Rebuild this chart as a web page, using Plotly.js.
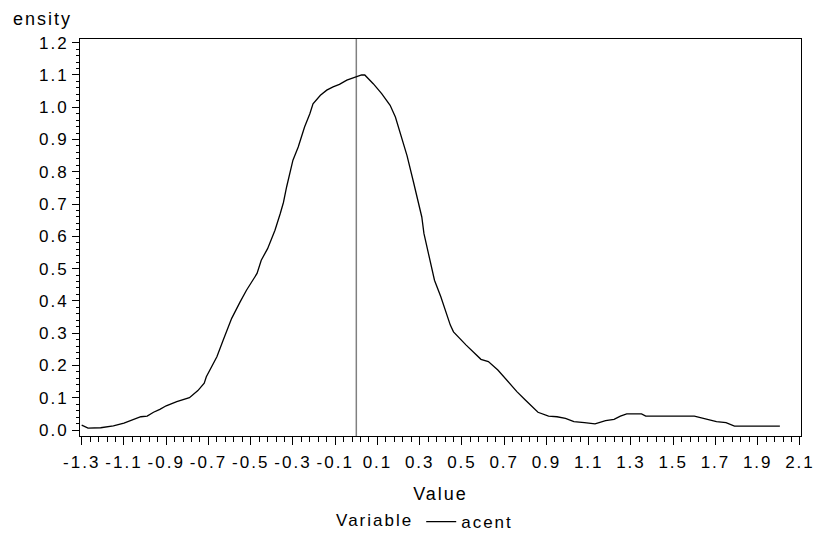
<!DOCTYPE html>
<html>
<head>
<meta charset="utf-8">
<script src="https://cdn.plot.ly/plotly-3.0.1.min.js"></script>
<style>
html, body { margin: 0; padding: 0; background: #ffffff; }
#chart { width: 816px; height: 556px; }
svg text { letter-spacing: 2px; }
</style>
</head>
<body>
<div id="chart"></div>
<script>
// Density curve for variable "acent"
var seriesName = "acent";
var legendTitle = "Variable";
var xTitle = "Value";
var yTitle = "ensity";

var values = [-1.30, -1.27, -1.21, -1.15, -1.10, -1.06, -1.02, -0.99, -0.96, -0.93,
  -0.90, -0.85, -0.79, -0.75, -0.72, -0.71, -0.66, -0.63, -0.60, -0.59,
  -0.55, -0.52, -0.47, -0.45, -0.42, -0.385, -0.36, -0.345, -0.33, -0.30,
  -0.275, -0.245, -0.22, -0.205, -0.17, -0.14, -0.11, -0.08, -0.045, -0.005,
  0.025, 0.04, 0.08, 0.12, 0.16, 0.185, 0.205, 0.24, 0.27, 0.29,
  0.31, 0.32, 0.35, 0.37, 0.40, 0.42, 0.445, 0.46, 0.52, 0.59,
  0.625, 0.67, 0.71, 0.76, 0.80, 0.845, 0.86, 0.91, 0.95, 0.99,
  1.03, 1.08, 1.13, 1.18, 1.22, 1.25, 1.28, 1.35, 1.37, 1.60,
  1.65, 1.705, 1.75, 1.79, 2.005];

var density = [0.015, 0.006, 0.007, 0.013, 0.021, 0.031, 0.041, 0.043, 0.055, 0.064,
  0.075, 0.088, 0.100, 0.122, 0.145, 0.165, 0.227, 0.279, 0.325, 0.346,
  0.397, 0.433, 0.485, 0.526, 0.562, 0.619, 0.671, 0.705, 0.753, 0.836,
  0.877, 0.939, 0.980, 1.011, 1.037, 1.053, 1.063, 1.071, 1.084, 1.092,
  1.100, 1.100, 1.073, 1.042, 1.006, 0.970, 0.925, 0.850, 0.770, 0.710,
  0.660, 0.609, 0.526, 0.464, 0.413, 0.372, 0.325, 0.304, 0.263, 0.219,
  0.212, 0.186, 0.155, 0.119, 0.093, 0.062, 0.055, 0.043, 0.041, 0.036,
  0.026, 0.023, 0.019, 0.029, 0.033, 0.043, 0.050, 0.050, 0.043, 0.043,
  0.036, 0.026, 0.023, 0.012, 0.012];

var referenceLine = [0];

var xTickVals = [-1.3, -1.1, -0.9, -0.7, -0.5, -0.3, -0.1, 0.1, 0.3, 0.5, 0.7, 0.9, 1.1, 1.3, 1.5, 1.7, 1.9, 2.1];
var xTickText = ["-1.3", "-1.1", "-0.9", "-0.7", "-0.5", "-0.3", "-0.1", "0.1", "0.3", "0.5", "0.7", "0.9", "1.1", "1.3", "1.5", "1.7", "1.9", "2.1"];
var yTickVals = [0, 0.1, 0.2, 0.3, 0.4, 0.5, 0.6, 0.7, 0.8, 0.9, 1.0, 1.1, 1.2];
var yTickText = ["0.0", "0.1", "0.2", "0.3", "0.4", "0.5", "0.6", "0.7", "0.8", "0.9", "1.0", "1.1", "1.2"];

var FONT = "Liberation Sans, Arial, sans-serif";

var trace = {
  x: values,
  y: density,
  type: "scatter",
  mode: "lines",
  name: seriesName,
  line: { color: "#000000", width: 1.3 },
  hoverinfo: "x+y"
};

var layout = {
  width: 816,
  height: 556,
  margin: { l: 80, r: 15, t: 39, b: 120 },
  paper_bgcolor: "#ffffff",
  plot_bgcolor: "#ffffff",
  font: { family: FONT, size: 17, color: "#000000" },
  showlegend: true,
  legend: {
    orientation: "h",
    x: 0.48,
    xanchor: "center",
    y: -0.217,
    yanchor: "middle",
    font: { family: FONT, size: 17, color: "#000000" },
    title: { text: legendTitle, side: "left", font: { family: FONT, size: 17, color: "#000000" } },
    itemwidth: 30,
    bgcolor: "rgba(0,0,0,0)"
  },
  xaxis: {
    range: [-1.308, 2.105],
    showgrid: false,
    zeroline: false,
    showline: true,
    linecolor: "#000000",
    linewidth: 1,
    mirror: true,
    ticks: "outside",
    ticklen: 8,
    tickwidth: 1,
    tickcolor: "#000000",
    tickvals: xTickVals,
    ticktext: xTickText,
    ticklabelstandoff: 3,
    tickfont: { family: FONT, size: 17, color: "#000000" },
    minor: { dtick: 0.04, tick0: -1.3, ticks: "outside", ticklen: 5, tickwidth: 1, tickcolor: "#000000", showgrid: false },
    title: { text: xTitle, font: { family: FONT, size: 18, color: "#000000" }, standoff: 15 }
  },
  yaxis: {
    range: [-0.0186, 1.2115],
    showgrid: false,
    zeroline: false,
    showline: true,
    linecolor: "#000000",
    linewidth: 1,
    mirror: true,
    ticks: "outside",
    ticklen: 7,
    tickwidth: 1,
    tickcolor: "#000000",
    tickvals: yTickVals,
    ticktext: yTickText,
    ticklabelstandoff: 0,
    tickfont: { family: FONT, size: 17, color: "#000000" },
    minor: { dtick: 0.02, tick0: 0, ticks: "outside", ticklen: 3, tickwidth: 1, tickcolor: "#000000", showgrid: false }
  },
  shapes: [{
    type: "line",
    xref: "x",
    yref: "paper",
    x0: referenceLine[0],
    x1: referenceLine[0],
    y0: 0,
    y1: 1,
    line: { color: "#808080", width: 1.5 },
    layer: "below"
  }],
  annotations: [{
    text: yTitle,
    xref: "paper",
    yref: "paper",
    x: -0.008,
    y: 1.05,
    xanchor: "right",
    yanchor: "middle",
    showarrow: false,
    font: { family: FONT, size: 18, color: "#000000" }
  }]
};

Plotly.newPlot("chart", [trace], layout, { displayModeBar: false, staticPlot: true });
</script>
</body>
</html>
